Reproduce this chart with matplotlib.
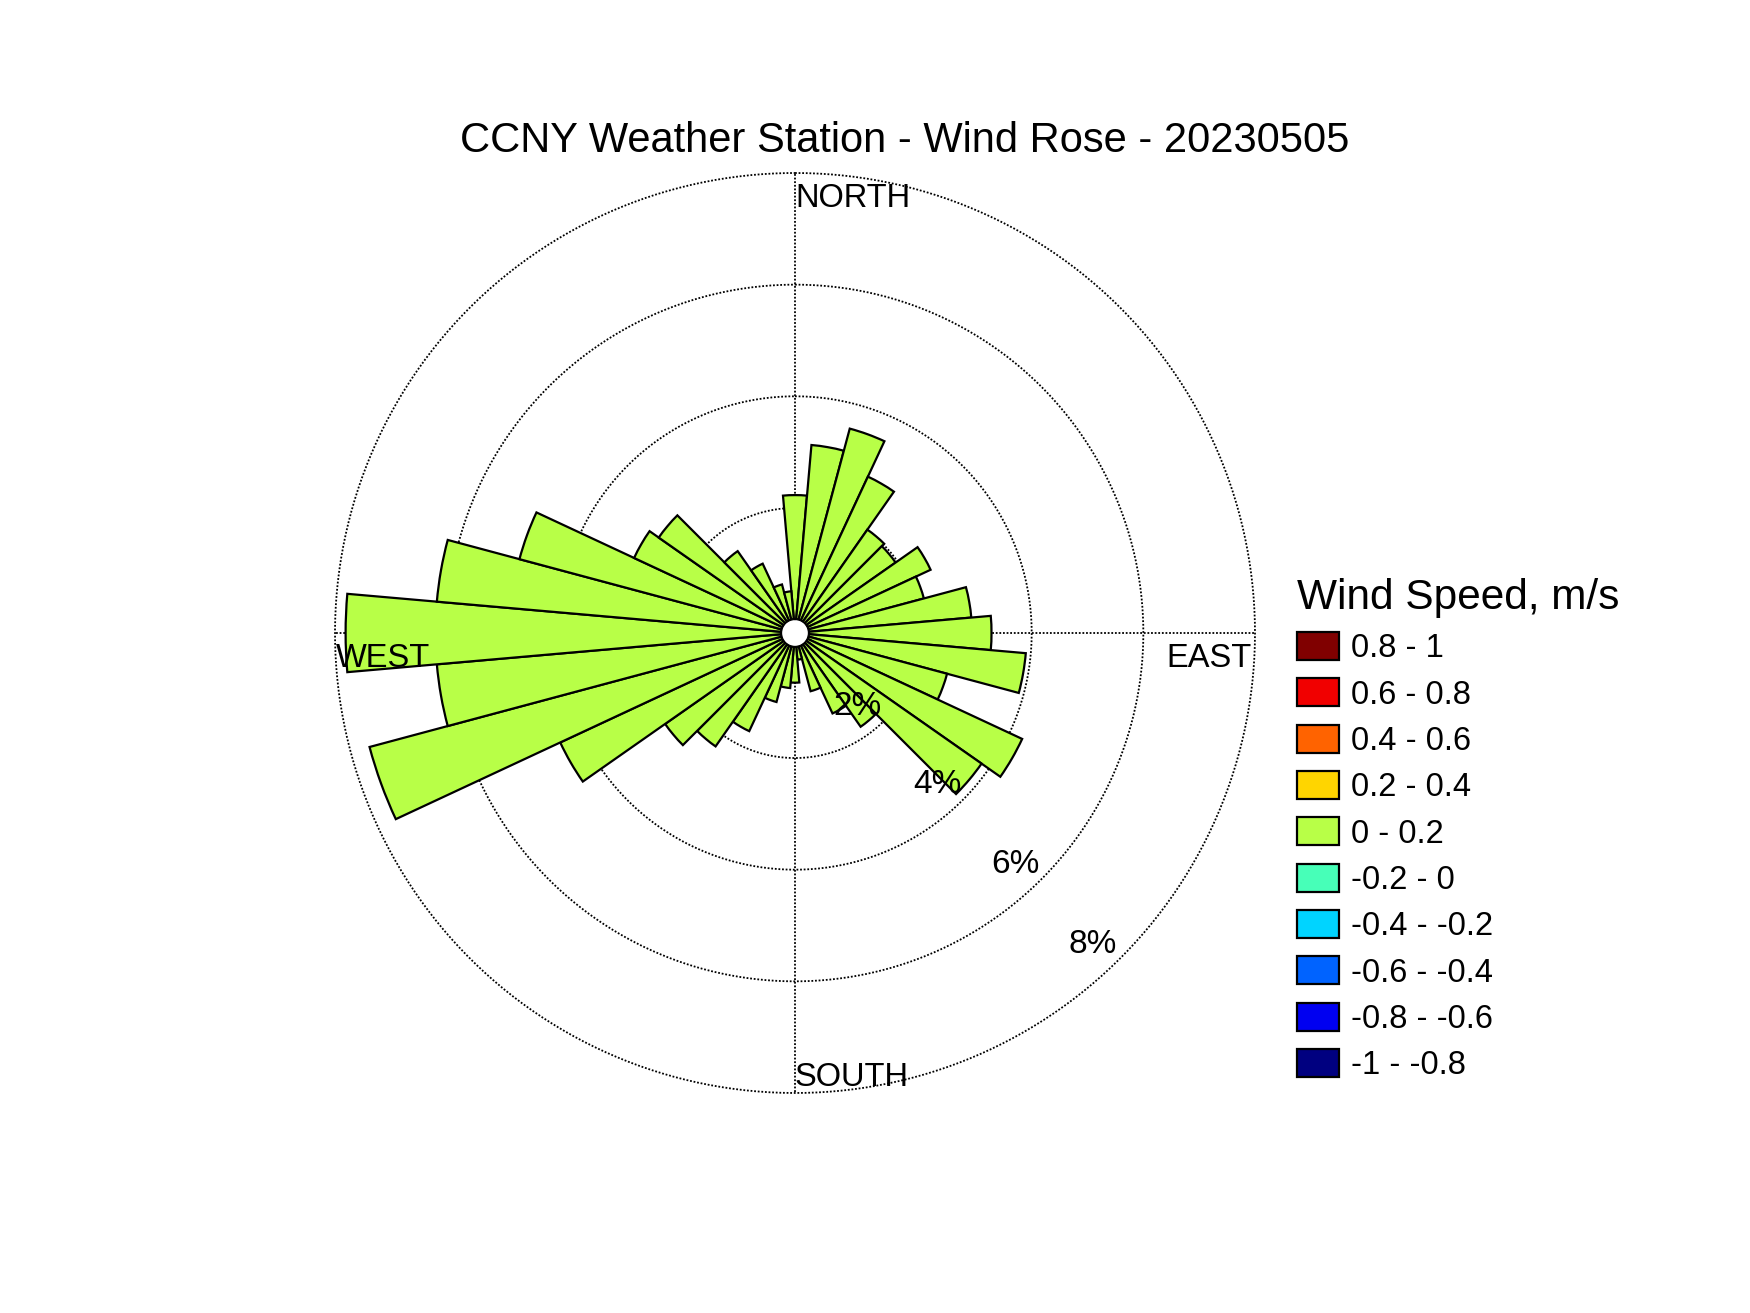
#!/usr/bin/env python3
"""
Wind rose of the CCNY weather station, 2023-05-05
"""
import matplotlib
matplotlib.use('Agg')
import matplotlib.pyplot as plt
from matplotlib.patches import Patch
from matplotlib.transforms import ScaledTranslation
import numpy as np

# Direction of each sector (degrees from north, clockwise)
directions = np.arange(0, 360, 10)
# Frequency (%) of the 0 - 0.2 m/s bin for each direction
freq_pct = [2.23, 3.14, 3.55, 2.85, 2.02, 1.96, 2.44, 2.15, 2.93, 3.28,
            3.91, 2.58, 4.25, 3.84, 1.81, 1.35, 0.84, 0.24, 0.65, 0.75,
            1.04, 1.70, 2.24, 2.60, 4.40, 7.65, 6.20, 7.81, 6.20, 4.87,
            2.94, 2.74, 1.55, 1.13, 0.66, 0.51]
speed_labels = ['0.8 - 1', '0.6 - 0.8', '0.4 - 0.6', '0.2 - 0.4', '0 - 0.2',
                '-0.2 - 0', '-0.4 - -0.2', '-0.6 - -0.4', '-0.8 - -0.6',
                '-1 - -0.8']
ring_pct = [2, 4, 6, 8]


def matlab_jet(x):
    """MATLAB style jet colormap evaluated at x in [0, 1]"""
    r = np.interp(x, [0, 0.375, 0.625, 0.875, 1], [0, 0, 1, 1, 0.5])
    g = np.interp(x, [0, 0.125, 0.375, 0.625, 0.875, 1], [0, 0, 1, 1, 0, 0])
    b = np.interp(x, [0, 0.125, 0.375, 0.625, 1], [0.5, 1, 1, 0, 0])
    return np.column_stack([r, g, b])


def main():
    plt.rcParams['font.family'] = ['Liberation Sans', 'DejaVu Sans']
    fig = plt.figure(figsize=(17.5, 13.13), dpi=100)
    ax = fig.add_axes([0.19143, 0.16756, 0.52571, 0.70069], projection='polar')
    ax.set_theta_zero_location('N')
    ax.set_theta_direction(-1)
    ax.set_rorigin(-0.24)
    ax.set_ylim(0, 8)
    ax.set_xticks([])
    ax.set_yticks([])
    ax.grid(False)
    for sp in ax.spines.values():
        sp.set_visible(False)

    # colours: jet sampled in 10 steps, highest speed first
    colors = matlab_jet(np.linspace(0, 1, 10))[::-1]
    bar_color = colors[speed_labels.index('0 - 0.2')]

    # dotted rings and axes
    dots = dict(color='black', linewidth=1.3, linestyle=(0, (1, 1)),
                zorder=1, clip_on=False)
    t = np.linspace(0, 2 * np.pi, 720)
    for r in ring_pct:
        ax.plot(t, np.full_like(t, r), **dots)
    for a in [0, 90, 180, 270]:
        ax.plot([np.deg2rad(a)] * 2, [0, ring_pct[-1]], **dots)

    ax.bar(np.deg2rad(directions), freq_pct, width=np.deg2rad(10), bottom=0,
           color=bar_color, edgecolor='black', linewidth=1.6, zorder=2)

    # labels sit a few pixels lower than their anchor
    lab_tr = ax.transData + ScaledTranslation(0, -0.035, fig.dpi_scale_trans)

    # ring labels
    for r in ring_pct:
        ang = 138 if r == 2 else 136
        ax.text(np.deg2rad(ang), r - 0.56, '{}%'.format(r), fontsize=24,
                ha='center', va='center', zorder=3, transform=lab_tr)

    fs = 23.5
    ax.text(0, 7.6, 'NORTH', fontsize=fs, ha='left', va='center',
            transform=lab_tr)
    ax.text(np.pi, 7.66, 'SOUTH', fontsize=fs, ha='left', va='center',
            transform=lab_tr)
    ax.text(np.deg2rad(267.3), 8.0, 'WEST', fontsize=fs, ha='left',
            va='center', transform=lab_tr)
    ax.text(np.deg2rad(92.8), 7.95, 'EAST', fontsize=fs, ha='right',
            va='center', transform=lab_tr)

    fig.text(905 / 1750, 1 - 141.5 / 1313,
             'CCNY Weather Station - Wind Rose - 20230505',
             fontsize=30, ha='center', va='center')

    handles = [Patch(facecolor=c, edgecolor='black', linewidth=1.6)
               for c in colors]
    ax.legend(handles, speed_labels, title='Wind Speed, m/s',
              loc='upper left', bbox_to_anchor=(0.7411, 0.5598),
              bbox_transform=fig.transFigure, frameon=False,
              fontsize=23.5, title_fontsize=30.5, handlelength=1.3,
              handleheight=0.95, handletextpad=0.36, labelspacing=0.43,
              borderpad=0, borderaxespad=0, alignment='left')

    fig.savefig('out.png', dpi=100)


if __name__ == "__main__":
    main()
